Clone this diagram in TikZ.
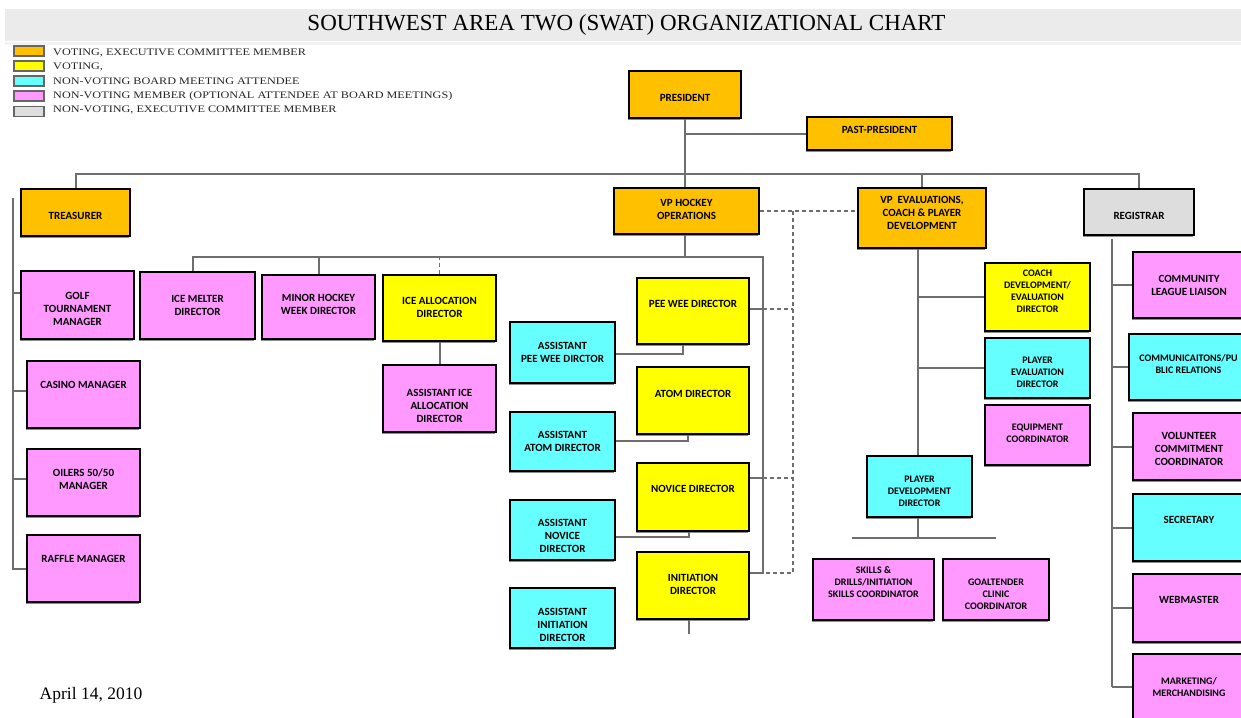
\documentclass[tikz,border=0pt]{standalone}
\usepackage{fontspec}
\setmainfont{Liberation Serif}
\newfontfamily\boxfont{Carlito}
\newfontfamily\legfont{Liberation Serif}[FakeStretch=1.22]
\usetikzlibrary{shadows}
\definecolor{cOrange}{HTML}{FFC000}
\definecolor{cYellow}{HTML}{FFFF00}
\definecolor{cCyan}{HTML}{66FFFF}
\definecolor{cPink}{HTML}{FF99FF}
\definecolor{cGray}{HTML}{DDDDDD}
\definecolor{cLine}{HTML}{6E6E6E}
\definecolor{cBand}{HTML}{EBEBEB}
\tikzset{
 box/.style={draw=black, line width=2.5pt, inner sep=0pt,
   drop shadow={shadow xshift=-1pt, shadow yshift=-2pt, fill=black!45, opacity=1}},
 lbl/.style={font=\boxfont\bfseries\fontsize{11}{13}\selectfont, align=center, inner sep=0pt, text=black},
 sm/.style={font=\boxfont\bfseries\fontsize{10}{12}\selectfont},
 ln/.style={draw=cLine, line width=2pt},
 dl/.style={draw=cLine, line width=1.6pt, dash pattern=on 4pt off 3pt},
 sw/.style={draw=black!60, line width=1.2pt, minimum width=30pt, minimum height=10pt, inner sep=0pt},
 legtxt/.style={anchor=west, font=\legfont\fontsize{10}{12}\selectfont, inner sep=0pt, text=black!85},
}
\newcommand\bx[9]{\node[box, fill=#6, minimum width={(#4-#2)*1pt}, minimum height={(#5-#3)*1pt},
  label={[lbl,#9,yshift=#8pt]center:{#7}}] (#1) at ({(#2+#4)/2},{(#3+#5)/2}) {};}
\begin{document}
\begin{tikzpicture}[x=1pt,y=-1pt]
\useasboundingbox (0,0) rectangle (1241,717);
\clip (0,0) rectangle (1241,717);
\fill[white] (0,0) rectangle (1241,717);
% title band
\fill[cBand] (5,9) rectangle (1241,41);
\fill[black!5] (5,42) rectangle (1241,45);
\node[font=\fontsize{23}{26}\selectfont, inner sep=0pt] (title) at (626.5,25) {SOUTHWEST AREA TWO (SWAT) ORGANIZATIONAL CHART};
% legend
\node[sw, fill=cOrange] (lg1) at (29,51) {};
\node[sw, fill=cYellow] (lg2) at (29,66) {};
\node[sw, fill=cCyan] (lg3) at (29,81) {};
\node[sw, fill=cPink] (lg4) at (29,96) {};
\node[sw, fill=cGray] (lg5) at (29,111.5) {};
\node[legtxt] (lt1) at (53,53) {VOTING, EXECUTIVE COMMITTEE MEMBER};
\node[legtxt] (lt2) at (53,67) {VOTING,};
\node[legtxt] (lt3) at (53,81) {NON-VOTING BOARD MEETING ATTENDEE};
\node[legtxt] (lt4) at (53,96) {NON-VOTING MEMBER (OPTIONAL ATTENDEE AT BOARD MEETINGS)};
\node[legtxt] (lt5) at (53,110) {NON-VOTING, EXECUTIVE COMMITTEE MEMBER};
% date
\node[font=\fontsize{17.5}{20}\selectfont, inner sep=0pt] (date) at (91,695) {April 14, 2010};

% ---- junction coordinates ----
\coordinate (topbus) at (0,174);
\coordinate (tb) at (13,198);
\coordinate (hbl) at (193,257);
\coordinate (hbr) at (763,257);
\coordinate (hbb) at (763,573);
\coordinate (pwj) at (763,309);
\coordinate (nvj) at (763,478);
\coordinate (dvt) at (793,212);
\coordinate (dvb) at (793,573);
\coordinate (pwa) at (683,354);
\coordinate (ata) at (688,441);
\coordinate (nva) at (689,537);
\coordinate (ev) at (918,0);
\coordinate (pj1) at (852,538);
\coordinate (pj2) at (996,538);
\coordinate (rv) at (1112,239);
\coordinate (rvb) at (1112,687);

% ---- boxes ----
\bx{pres}{629}{71}{741}{118}{cOrange}{PRESIDENT}{-3}{}
\bx{past}{807}{117}{952}{150}{cOrange}{PAST-PRESIDENT}{3.5}{}
\bx{treas}{21}{189}{130}{236}{cOrange}{TREASURER}{-3.5}{}
\bx{vph}{614}{188}{759}{234}{cOrange}{VP HOCKEY\\OPERATIONS}{2}{}
\bx{vpe}{858}{188}{986}{248}{cOrange}{VP~ EVALUATIONS{,}\\COACH \& PLAYER\\DEVELOPMENT}{5}{}
\bx{reg}{1084}{189}{1194}{235}{cGray}{REGISTRAR}{-4}{}
\bx{golf}{21}{271}{134}{339}{cPink}{GOLF\\TOURNAMENT\\MANAGER}{-4}{}
\bx{casino}{27}{361}{140}{428}{cPink}{CASINO MANAGER}{10}{}
\bx{oilers}{27}{449}{140}{516}{cPink}{OILERS 50/50\\MANAGER}{3.5}{}
\bx{raffle}{27}{535}{140}{602}{cPink}{RAFFLE MANAGER}{10}{}
\bx{melter}{140}{272}{255}{339}{cPink}{ICE MELTER\\DIRECTOR}{0}{}
\bx{minor}{262}{275}{375}{339}{cPink}{MINOR HOCKEY\\WEEK DIRECTOR}{3}{}
\bx{alloc}{383}{275}{496}{341}{cYellow}{ICE ALLOCATION\\DIRECTOR}{1}{}
\bx{aalloc}{383}{365}{496}{432}{cPink}{ASSISTANT ICE\\ALLOCATION\\DIRECTOR}{-7}{}
\bx{peewee}{637}{278}{749}{344}{cYellow}{PEE WEE DIRECTOR}{7}{}
\bx{atom}{637}{367}{749}{434}{cYellow}{ATOM DIRECTOR}{7}{}
\bx{novice}{637}{463}{749}{531}{cYellow}{NOVICE DIRECTOR}{8}{}
\bx{init}{637}{552}{749}{619}{cYellow}{INITIATION\\DIRECTOR}{1}{}
\bx{apw}{510}{322}{615}{383}{cCyan}{ASSISTANT\\PEE WEE DIRCTOR}{0}{}
\bx{aatom}{510}{412}{615}{471}{cCyan}{ASSISTANT\\ATOM DIRECTOR}{0}{}
\bx{anov}{510}{500}{615}{560}{cCyan}{ASSISTANT\\NOVICE\\DIRECTOR}{-6}{}
\bx{ainit}{510}{588}{615}{648}{cCyan}{ASSISTANT\\INITIATION\\DIRECTOR}{-7}{}
\bx{coach}{985}{263}{1090}{331}{cYellow}{COACH\\DEVELOPMENT/\\EVALUATION\\DIRECTOR}{5.5}{sm}
\bx{peval}{985}{338}{1090}{398}{cCyan}{PLAYER\\EVALUATION\\DIRECTOR}{-4}{sm}
\bx{equip}{985}{405}{1090}{465}{cPink}{EQUIPMENT\\COORDINATOR}{2}{sm}
\bx{pdd}{867}{456}{972}{517}{cCyan}{PLAYER\\DEVELOPMENT\\DIRECTOR}{-4.5}{sm}
\bx{skills}{813}{559}{934}{620}{cPink}{SKILLS \&\\DRILLS/INITIATION\\SKILLS COORDINATOR}{7.5}{sm}
\bx{goal}{943}{559}{1049}{620}{cPink}{GOALTENDER\\CLINIC\\COORDINATOR}{-4.5}{sm}
\bx{comm}{1133}{252}{1245}{318}{cPink}{COMMUNITY\\LEAGUE LIAISON}{0}{}
\bx{pr}{1129}{334}{1248}{400}{cCyan}{COMMUNICAITONS/PU\\BLIC RELATIONS}{2.5}{sm}
\bx{vol}{1133}{413}{1245}{480}{cPink}{VOLUNTEER\\COMMITMENT\\COORDINATOR}{-2.5}{}
\bx{sec}{1133}{494}{1245}{561}{cCyan}{SECRETARY}{7.5}{}
\bx{web}{1133}{574}{1245}{642}{cPink}{WEBMASTER}{8}{}
\bx{mkt}{1133}{654}{1245}{720}{cPink}{MARKETING/\\MERCHANDISING}{0}{sm}

% ---- connectors ----
\draw[ln] (pres.south) -- (vph.north -| pres.south);
\draw[ln] (pres.south |- past.west) -- (past.west);
\draw[ln] (treas.north) -- (treas.north |- topbus) -- (reg.north |- topbus) -- (reg.north);
\draw[ln] (vpe.north) -- (vpe.north |- topbus);
% treasurer bracket
\draw[ln] (tb) -- (tb |- raffle.west) -- (raffle.west);
\draw[ln] ([yshift=12pt]golf.west) -- ++(-8,0);
\draw[ln] ([yshift=4pt]casino.west) -- ++(-14,0);
\draw[ln] ([yshift=4pt]oilers.west) -- ++(-14,0);
% hockey operations
\draw[ln] (vph.south -| pres.south) -- (hbl -| pres.south);
\draw[ln] (melter.north -| hbl) -- (hbl) -- (hbr) -- (hbb) -- (hbb -| init.east);
\draw[ln] (minor.north) -- (minor.north |- hbl);
\draw[dl] (alloc.north) -- (alloc.north |- hbl);
\draw[ln] (alloc.south) -- (aalloc.north);
\draw[ln] (pwj -| peewee.east) -- (pwj);
\draw[ln] (nvj -| novice.east) -- (nvj);
\draw[dl] (pwj) -- (pwj -| dvt);
\draw[dl] (nvj) -- (nvj -| dvt);
\draw[dl] (vph.east) -- (vph.east -| vpe.west);
\draw[dl] (vph.east -| dvt) -- (dvb) -- (hbb);
\draw[ln] (pwa |- peewee.south) -- (pwa) -- (pwa -| apw.east);
\draw[ln] (ata -| aatom.east) -- (ata) -- (ata |- atom.south);
\draw[ln] (nva |- novice.south) -- (nva) -- (nva -| anov.east);
\draw[ln] (init.south -| nva) -- ++(0,14);
% evaluations
\draw[ln] (vpe.south -| ev) -- (pdd.north -| ev);
\draw[ln] (coach.west -| ev) -- (coach.west);
\draw[ln] (peval.west -| ev) -- (peval.west);
\draw[ln] (pdd.south -| ev) -- (ev |- pj1);
\draw[ln] (pj1) -- (pj2);
% registrar
\draw[ln] (rv) -- (rvb);
\draw[ln] (comm.west -| rv) -- (comm.west);
\draw[ln] (pr.west -| rv) -- (pr.west);
\draw[ln] (vol.west -| rv) -- (vol.west);
\draw[ln] (sec.west -| rv) -- (sec.west);
\draw[ln] (web.west -| rv) -- (web.west);
\draw[ln] (mkt.west -| rv) -- (mkt.west);
\end{tikzpicture}
\end{document}
